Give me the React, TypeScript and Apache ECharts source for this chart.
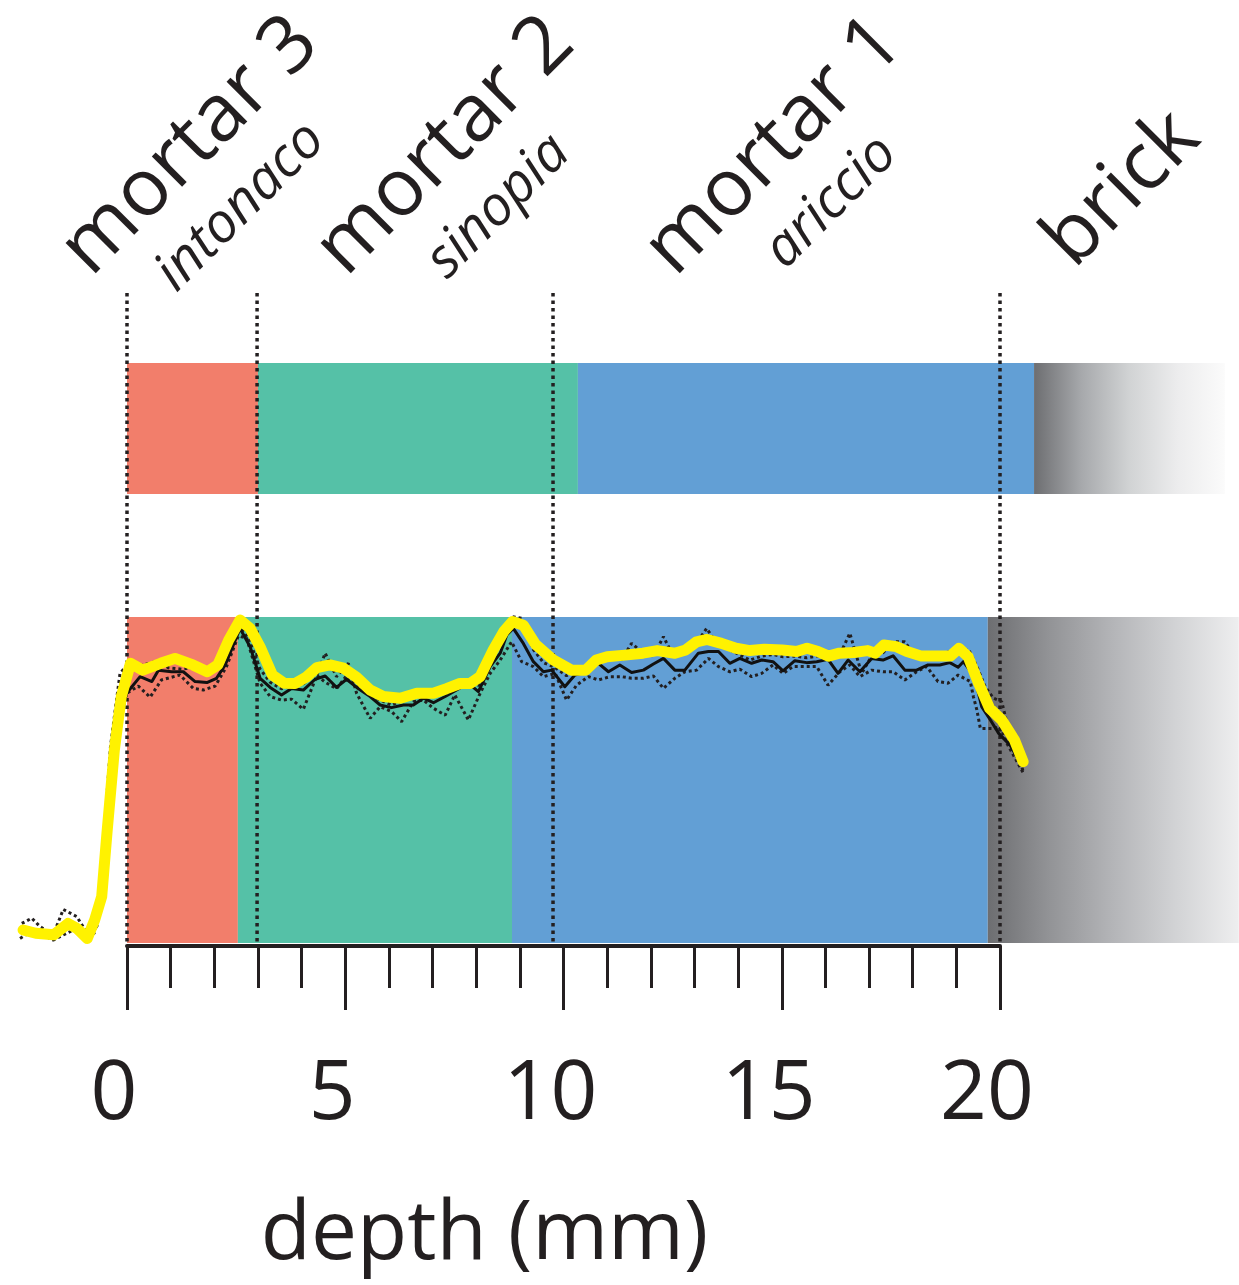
import React, { useEffect, useRef } from "react";
import * as echarts from "echarts";

// ---------- data ----------
const layerNames = ["mortar 3", "mortar 2", "mortar 1", "brick"];
const layerSubnames = ["intonaco", "sinopia", "ariccio", ""];
const layerColors = ["#F27E6B", "#55C1A7", "#629FD5"];
const upperBrickGradient = ["#6D6E71", "#A7A9AC", "#D1D3D4", "#ECECED", "#FBFBFB"];
const lowerBrickGradient = ["#6D6E71", "#939497", "#B4B5B8", "#D2D3D5", "#EEEEEF"];

// layer boundaries (mm) as dotted verticals
const boundaryDepths = [0, 2.98, 9.76, 20];
// upper bar: [start, end, layerIndex]
const upperBar: number[][] = [
  [0, 3.0, 0],
  [3.0, 10.33, 1],
  [10.33, 20.78, 2],
  [20.78, 25.15, 3],
];
// lower band: [start, end, layerIndex]
const lowerBand: number[][] = [
  [0, 2.54, 0],
  [2.54, 8.82, 1],
  [8.82, 19.72, 2],
  [19.72, 25.47, 3],
];

const axisMin = 0;
const axisMax = 20;
const axisInterval = 5;
const axisName = "depth (mm)";

// smoothed profile (yellow)
const smoothProfile: number[][] = [
  [-2.38, 4.0], [-2.09, 3.0], [-1.68, 2.5], [-1.35, 6.0], [-1.15, 4.5], [-0.91, 1.4], [-0.74, 7.1],
  [-0.58, 14.2], [-0.46, 33.6], [-0.29, 59.2], [-0.13, 75.6], [0.08, 85.8], [0.36, 83.7], [0.77, 85.8],
  [1.1, 87.3], [1.51, 85.3], [1.84, 83.2], [2.08, 85.3], [2.33, 92.9], [2.59, 99.1], [2.82, 96.5],
  [3.06, 90.5], [3.33, 82.2], [3.6, 79.7], [3.85, 79.6], [4.1, 81.5], [4.35, 84.5], [4.65, 85.3],
  [4.96, 84.3], [5.26, 81.5], [5.57, 77.6], [5.87, 75.6], [6.26, 75.1], [6.64, 76.6], [7.02, 76.6],
  [7.32, 78.0], [7.63, 79.6], [7.86, 79.6], [8.09, 81.7], [8.39, 89.9], [8.63, 95.5], [8.83, 98.6],
  [9.08, 97.5], [9.36, 91.6], [9.77, 86.8], [10.18, 83.7], [10.51, 83.7], [10.75, 86.8], [11.0, 87.8],
  [11.41, 88.3], [11.82, 88.9], [12.15, 89.7], [12.55, 88.9], [12.8, 89.9], [13.05, 92.4], [13.29, 93.1],
  [13.62, 91.9], [13.95, 90.4], [14.27, 89.7], [14.6, 90.1], [15.01, 89.9], [15.34, 89.4], [15.58, 90.4],
  [15.83, 89.4], [16.07, 88.0], [16.32, 88.9], [16.65, 89.1], [16.97, 89.7], [17.14, 88.9], [17.34, 91.4],
  [17.63, 90.9], [17.87, 89.4], [18.2, 88.0], [18.53, 88.0], [18.86, 88.0], [19.06, 90.4], [19.27, 87.8],
  [19.51, 79.7], [19.76, 72.0], [20.04, 68.4], [20.33, 62.3], [20.53, 55.6],
];

// mean profile (solid black)
const meanProfile: number[][] = [
  [-2.4, 4.5], [-2.1, 3.5], [-1.7, 3.0], [-1.35, 5.5], [-1.15, 4.5], [-0.91, 2.0], [-0.74, 6.5],
  [-0.58, 13.5], [-0.46, 32], [-0.29, 57], [-0.13, 70], [-0.01, 76.6], [0.3, 81.7], [0.57, 80.2],
  [0.72, 83.7], [1.02, 83.2], [1.29, 83.2], [1.56, 80.2], [1.83, 79.9], [2.05, 81.2], [2.25, 85.3],
  [2.59, 96.5], [2.82, 90.9], [3.05, 81.2], [3.28, 78.4], [3.54, 76.1], [3.77, 78.1], [4.04, 77.6],
  [4.31, 80.9], [4.54, 81.9], [4.8, 78.4], [5.03, 80.9], [5.26, 78.4], [5.57, 75.6], [5.8, 73.0],
  [6.06, 72.2], [6.33, 73.0], [6.56, 73.0], [6.79, 75.1], [7.02, 73.7], [7.29, 75.6], [7.55, 77.6],
  [7.82, 79.7], [8.05, 77.1], [8.32, 84.8], [8.55, 88.9], [8.7, 94.5], [8.85, 96.5], [9.08, 91.9],
  [9.31, 86.3], [9.54, 83.2], [9.73, 83.7], [10.03, 78.6], [10.26, 82.2], [10.53, 83.2], [10.8, 85.8],
  [11.03, 83.2], [11.29, 85.3], [11.56, 83.0], [11.83, 83.7], [12.06, 85.6], [12.29, 87.3], [12.55, 83.7],
  [12.78, 83.7], [13.09, 88.9], [13.32, 89.4], [13.55, 89.4], [13.81, 85.8], [14.04, 87.3], [14.31, 85.8],
  [14.54, 86.8], [14.8, 86.3], [15.03, 83.5], [15.3, 86.6], [15.57, 86.0], [15.8, 86.3], [16.06, 87.0],
  [16.29, 82.7], [16.52, 86.8], [16.79, 83.2], [17.06, 87.3], [17.32, 86.8], [17.55, 88.1], [17.82, 83.7],
  [18.09, 83.7], [18.35, 85.3], [18.62, 85.3], [18.85, 86.0], [19.04, 84.6], [19.16, 86.3], [19.36, 82.7],
  [19.47, 78.6], [19.58, 72.5], [19.78, 68.4], [19.97, 64.3], [20.23, 60.7], [20.5, 54.5],
];

// replicate profile A (dotted, lower)
const replicateA: number[][] = [
  [-2.45, 1.4], [-2.2, 3.5], [-1.95, 2.5], [-1.69, 0.9], [-1.38, 3.0], [-1.15, 4.5], [-0.96, 1.5],
  [-0.75, 3.0], [-0.6, 15], [-0.45, 35], [-0.3, 58], [-0.15, 70], [-0.01, 76.6], [0.26, 78.8],
  [0.53, 75.4], [0.79, 80.7], [1.21, 82.2], [1.52, 78.1], [1.75, 77.6], [2.02, 78.8], [2.28, 84.8],
  [2.55, 94.2], [2.74, 93.5], [3.05, 79.7], [3.28, 75.6], [3.54, 74.5], [3.77, 74.8], [4.04, 71.7],
  [4.31, 80.7], [4.54, 88.9], [4.8, 81.7], [5.07, 85.8], [5.26, 76.6], [5.57, 68.9], [5.8, 72.5],
  [6.06, 71.0], [6.29, 67.9], [6.56, 74.0], [6.79, 74.5], [7.02, 72.0], [7.29, 69.9], [7.51, 76.1],
  [7.82, 68.4], [8.09, 76.6], [8.32, 82.7], [8.55, 86.8], [8.81, 92.4], [9.04, 86.3], [9.31, 84.8],
  [9.54, 81.7], [9.81, 82.7], [10.07, 74.5], [10.3, 79.1], [10.57, 81.7], [10.8, 80.7], [11.07, 81.7],
  [11.33, 81.7], [11.56, 81.2], [11.83, 81.2], [12.06, 81.9], [12.29, 78.1], [12.55, 81.2], [12.78, 83.2],
  [13.05, 83.7], [13.32, 87.3], [13.55, 84.8], [13.81, 83.2], [14.04, 84.0], [14.31, 81.7], [14.54, 82.7],
  [14.8, 85.3], [15.03, 82.7], [15.26, 84.8], [15.53, 84.8], [15.8, 84.8], [16.06, 79.1], [16.33, 83.2],
  [16.56, 85.3], [16.79, 81.7], [17.06, 83.7], [17.32, 83.2], [17.55, 83.2], [17.82, 80.7], [18.09, 83.2],
  [18.32, 84.8], [18.58, 80.2], [18.81, 79.7], [19.04, 82.2], [19.32, 80.2], [19.39, 75.6], [19.47, 71.5],
  [19.55, 65.8], [19.85, 65.8], [20.0, 66.4], [20.16, 61.2], [20.54, 52.0],
];

// replicate profile B (dotted, upper)
const replicateB: number[][] = [
  [-2.41, 6.0], [-2.18, 7.6], [-1.99, 5.0], [-1.69, 2.5], [-1.46, 10.3], [-1.15, 8.1], [-0.96, 4.0],
  [-0.69, 5.0], [-0.62, 13.2], [-0.5, 38], [-0.38, 60], [-0.27, 71.5], [-0.16, 82.7], [0.07, 86.3],
  [0.3, 85.0], [0.55, 86.0], [0.8, 86.5], [0.94, 84.4], [1.25, 84.0], [1.5, 84.5], [1.8, 83.0],
  [2.05, 84.5], [2.3, 91.0], [2.55, 98.0], [2.8, 93.0], [3.05, 84.0], [3.28, 80.0], [3.54, 78.0],
  [3.77, 79.0], [4.04, 79.5], [4.31, 82.5], [4.54, 80.0], [4.8, 78.0], [5.03, 82.0], [5.26, 79.0],
  [5.57, 76.0], [5.8, 74.5], [6.06, 73.0], [6.33, 74.5], [6.56, 75.5], [6.79, 76.0], [7.02, 75.5],
  [7.29, 77.0], [7.55, 79.0], [7.82, 80.0], [8.05, 79.0], [8.32, 86.0], [8.55, 93.0], [8.81, 100.1],
  [9.04, 99.6], [9.31, 90.0], [9.54, 86.0], [9.81, 84.5], [10.07, 82.0], [10.3, 84.0], [10.57, 85.5],
  [10.8, 86.5], [11.07, 87.8], [11.33, 87.0], [11.56, 91.9], [11.83, 88.9], [12.06, 88.0], [12.29, 94.0],
  [12.52, 87.8], [12.82, 90.9], [13.05, 92.0], [13.28, 96.5], [13.51, 91.9], [13.89, 89.4], [14.27, 86.8],
  [14.54, 88.0], [14.8, 88.5], [15.03, 87.8], [15.3, 88.0], [15.57, 87.5], [15.8, 88.0], [16.06, 88.0],
  [16.35, 89.0], [16.56, 95.0], [16.83, 82.7], [17.06, 88.0], [17.32, 89.0], [17.55, 92.4], [17.82, 92.4],
  [18.09, 87.3], [18.35, 88.0], [18.62, 88.5], [18.85, 89.4], [19.06, 89.5], [19.28, 90.1], [19.47, 84.8],
  [19.66, 78.6], [19.85, 75.1], [20.04, 74.0], [20.16, 67.4], [20.23, 61.2], [20.5, 54.1], [20.54, 52.0],
];

// ---------- layout ----------
const W = 1239;
const H = 1285;
const PX_PER_MM = 43.65;
const ZERO_X = 127;
const X_MIN = -2.5;
const X_MAX = 25.47;
const DATA_LEFT = ZERO_X + X_MIN * PX_PER_MM;
const DATA_WIDTH = (X_MAX - X_MIN) * PX_PER_MM;
const INK = "#231F20";
const FONT = "Open Sans";

// label anchors (text centre-line start), rotated 45°
const titleAnchors = [
  [69, 256],
  [324, 256],
  [653, 256],
  [1052, 248],
];
const subAnchors = [
  [161, 278],
  [432, 265],
  [770, 255],
];

function gradientFill(stops: string[]) {
  return new echarts.graphic.LinearGradient(
    0,
    0,
    1,
    0,
    stops.map((c, i) => ({ offset: i / (stops.length - 1), color: c }))
  );
}

function bandRenderer(yTop: number, yBottom: number, brickStops: string[]) {
  return (params: any, api: any) => {
    const p0 = api.coord([api.value(0), yTop]);
    const p1 = api.coord([api.value(1), yBottom]);
    const idx = api.value(2);
    return {
      type: "rect",
      shape: { x: p0[0], y: p0[1], width: p1[0] - p0[0], height: p1[1] - p0[1] },
      style: { fill: idx < layerColors.length ? layerColors[idx] : gradientFill(brickStops) },
    };
  };
}

export default function App() {
  const ref = useRef<HTMLDivElement>(null);

  useEffect(() => {
    if (!ref.current) return;
    const chart = echarts.init(ref.current, undefined, { renderer: "svg" });

    const hiddenX = (gridIndex: number) => ({
      type: "value",
      gridIndex,
      min: X_MIN,
      max: X_MAX,
      show: false,
    });
    const hiddenY = (gridIndex: number, max: number) => ({
      type: "value",
      gridIndex,
      min: 0,
      max,
      show: false,
    });

    const graphics: any[] = [];
    layerNames.forEach((name, i) => {
      graphics.push({
        type: "text",
        x: titleAnchors[i][0],
        y: titleAnchors[i][1],
        rotation: Math.PI / 4,
        silent: true,
        style: {
          text: name,
          fontSize: 80,
          fontFamily: FONT,
          fill: INK,
          textAlign: "left",
          align: "left",
          textVerticalAlign: "middle",
          verticalAlign: "middle",
        },
      });
      if (layerSubnames[i]) {
        graphics.push({
          type: "text",
          x: subAnchors[i][0],
          y: subAnchors[i][1],
          rotation: Math.PI / 4,
          silent: true,
          style: {
            text: layerSubnames[i],
            fontSize: 55,
            fontStyle: "italic",
            fontFamily: FONT,
            fill: INK,
            textAlign: "left",
            align: "left",
            textVerticalAlign: "middle",
            verticalAlign: "middle",
          },
        });
      }
    });

    const lineBase = {
      type: "line",
      xAxisIndex: 0,
      yAxisIndex: 0,
      symbol: "none",
      showSymbol: false,
      silent: true,
      clip: false,
    };

    const option: any = {
      animation: false,
      backgroundColor: "#ffffff",
      grid: [
        { left: DATA_LEFT, top: 617, width: DATA_WIDTH, height: 326 },
        { left: ZERO_X, top: 617, width: (axisMax - axisMin) * PX_PER_MM, height: 329 },
        { left: DATA_LEFT, top: 363, width: DATA_WIDTH, height: 131 },
        { left: DATA_LEFT, top: 293, width: DATA_WIDTH, height: 650 },
      ],
      xAxis: [
        hiddenX(0),
        {
          type: "value",
          gridIndex: 1,
          min: axisMin,
          max: axisMax,
          interval: axisInterval,
          axisLine: { show: true, onZero: false, lineStyle: { color: INK, width: 4 } },
          axisTick: { show: true, length: 64, lineStyle: { color: INK, width: 3 } },
          minorTick: { show: true, splitNumber: 5, length: 42, lineStyle: { color: INK, width: 3 } },
          splitLine: { show: false },
          minorSplitLine: { show: false },
          axisLabel: {
            fontSize: 82,
            fontFamily: FONT,
            color: INK,
            margin: 100,
            padding: [0, 26, 0, 0],
          },
          name: axisName,
          nameLocation: "middle",
          nameGap: 240,
          nameTextStyle: {
            fontSize: 82,
            fontFamily: FONT,
            color: INK,
            padding: [0, 158, 0, 0],
          },
        },
        hiddenX(2),
        hiddenX(3),
      ],
      yAxis: [hiddenY(0, 100), hiddenY(1, 1), hiddenY(2, 1), hiddenY(3, 1)],
      graphic: { elements: graphics },
      series: [
        {
          type: "custom",
          name: "lower layers",
          xAxisIndex: 0,
          yAxisIndex: 0,
          silent: true,
          z: 1,
          encode: { x: [0, 1] },
          data: lowerBand,
          renderItem: bandRenderer(100, 0, lowerBrickGradient),
        },
        {
          type: "custom",
          name: "upper layers",
          xAxisIndex: 2,
          yAxisIndex: 2,
          silent: true,
          z: 1,
          encode: { x: [0, 1] },
          data: upperBar,
          renderItem: bandRenderer(1, 0, upperBrickGradient),
        },
        {
          type: "custom",
          name: "boundaries",
          xAxisIndex: 3,
          yAxisIndex: 3,
          silent: true,
          z: 2,
          encode: { x: 0 },
          data: boundaryDepths.map((d) => [d]),
          renderItem: (params: any, api: any) => {
            const top = api.coord([api.value(0), 1]);
            const bottom = api.coord([api.value(0), 0]);
            return {
              type: "line",
              shape: { x1: top[0], y1: top[1], x2: bottom[0], y2: bottom[1] },
              style: { stroke: INK, lineWidth: 3.5, lineDash: [3.5, 4], fill: null },
            };
          },
        },
        {
          ...lineBase,
          name: "replicate A",
          z: 3,
          data: replicateA,
          lineStyle: { color: INK, width: 3, type: [3, 3] },
        },
        {
          ...lineBase,
          name: "replicate B",
          z: 3,
          data: replicateB,
          lineStyle: { color: INK, width: 3, type: [3, 3] },
        },
        {
          ...lineBase,
          name: "mean",
          z: 4,
          data: meanProfile,
          lineStyle: { color: "#111111", width: 3, join: "round" },
        },
        {
          ...lineBase,
          name: "smoothed",
          z: 5,
          data: smoothProfile,
          lineStyle: { color: "#FFF200", width: 11, join: "round", cap: "round" },
        },
      ],
    };

    chart.setOption(option);
    return () => chart.dispose();
  }, []);

  return (
    <div
      ref={ref}
      style={{ position: "absolute", left: 0, top: 0, width: W, height: H, background: "#fff" }}
    />
  );
}
